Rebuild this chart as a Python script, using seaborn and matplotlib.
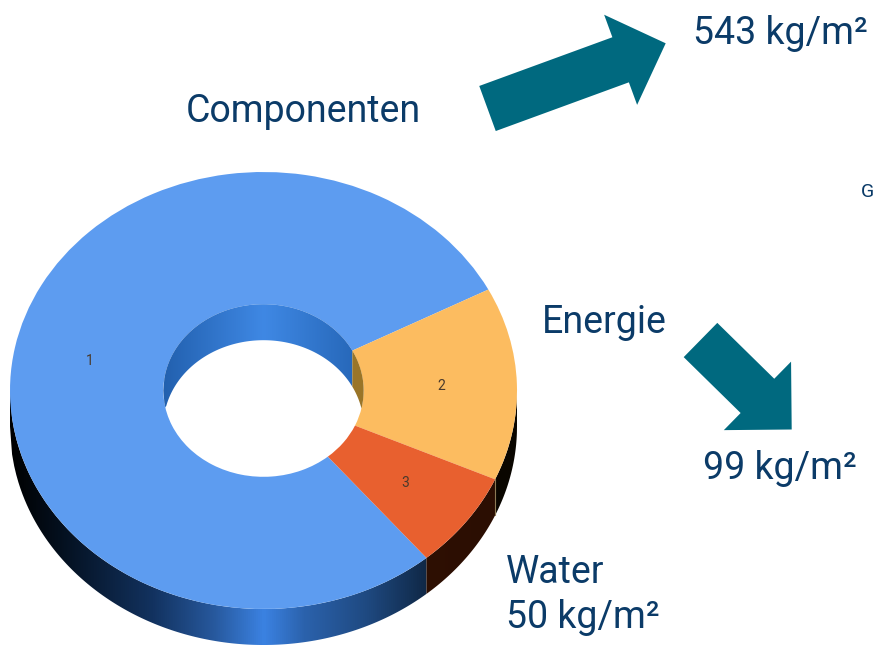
import numpy as np
import matplotlib
matplotlib.use("Agg")
import matplotlib.pyplot as plt
from matplotlib.colors import LinearSegmentedColormap
from matplotlib.patches import FancyArrow, Polygon
import seaborn as sns

# data
slice_labels = ["1", "2", "3"]
slice_values = [543, 99, 50]
slice_colors = ["#5d9cf0", "#fcbc60", "#e8602f"]
annotations = ["Componenten", "543 kg/m²", "Energie", "99 kg/m²", "Water", "50 kg/m²"]

sns.set_theme(style="white")
plt.rcParams["font.family"] = ["Roboto", "DejaVu Sans"]

W, H = 874, 646
CX, CY, RX, RY = 263.5, 390.5, 253.5, 218.5
DEPTH = 36 / RY
HOLE = 0.395
TEXT = "#0b3b68"
TEAL = "#00697f"

fig = plt.figure(figsize=(W / 100, H / 100), dpi=100, facecolor="white")

# disk axes: unit ellipse mapped on the picture
ax = fig.add_axes([0, 0, 1, 1], facecolor="none")
palette = sns.color_palette(slice_colors)
wedges, label_texts = ax.pie(
    slice_values, labels=slice_labels, colors=palette, startangle=-50,
    counterclock=False, radius=1, labeldistance=0.7,
    wedgeprops=dict(width=1 - HOLE, linewidth=0),
    textprops=dict(fontsize=10, color="#4a3a2c"),
)
for t in label_texts:
    t.set_ha("center")
    t.set_va("center")
ax.set_aspect("auto")
xlim = (-CX / RX, (W - CX) / RX)
ylim = (-(H - CY) / RY, CY / RY)
ax.set_xlim(xlim)
ax.set_ylim(ylim)
ax.axis("off")


def gradient(stops, verts, zorder=0.5):
    cmap = LinearSegmentedColormap.from_list("w", stops)
    xs = np.linspace(-1, 1, 512)
    im = ax.imshow(xs[None, :], extent=(-1, 1, -2, 2), cmap=cmap, vmin=-1, vmax=1,
                   aspect="auto", interpolation="bilinear", zorder=zorder)
    im.set_clip_path(Polygon(verts, closed=True, transform=ax.transData))


def outer_wall(a, b):
    x = np.linspace(a, b, 200)
    up = -np.sqrt(np.clip(1 - x ** 2, 0, None))
    return np.r_[np.c_[x, up], np.c_[x[::-1], up[::-1] - DEPTH]]


def inner_wall(a, b):
    x = np.linspace(a, b, 200)
    up = np.sqrt(np.clip(HOLE ** 2 - x ** 2, 0, None))
    low = np.maximum(up - DEPTH, -up)
    return np.r_[np.c_[x, up], np.c_[x[::-1], low[::-1]]]


blue_out = [(0, "#000000"), (0.10, "#04101f"), (0.28, "#12325f"), (0.40, "#27589c"),
            (0.5, "#3b82e2"), (0.58, "#2b62ac"), (0.70, "#1f4a82"), (0.85, "#0c2038"), (1, "#000000")]
brown = [(0, "#401505"), (1, "#2a0e02")]
dark = [(0, "#1a1203"), (1, "#0a0600")]
blue_in = [(0, "#1c5298"), (0.3, "#2260ae"), (0.5, "#3f88e4"), (0.7, "#2464b4"), (1, "#1d5aa6")]
gold = [(0, "#8f6c22"), (1, "#a07a2c")]

# boundaries of the slices, taken from the pie's own wedges
x12 = np.cos(np.deg2rad(wedges[1].theta2))
x23 = np.cos(np.deg2rad(wedges[1].theta1))
x31 = np.cos(np.deg2rad(wedges[2].theta1))

gradient(blue_out, outer_wall(-1, x31))
gradient(brown, outer_wall(x31, x23))
gradient(dark, outer_wall(x23, 1))
ax.plot([x23, x23], [-np.sqrt(1 - x23 ** 2), -np.sqrt(1 - x23 ** 2) - DEPTH],
        color="#8c7a55", lw=0.8, zorder=0.6)
gradient(blue_in, inner_wall(-HOLE, HOLE * x12), zorder=3)
gradient(gold, inner_wall(HOLE * x12, HOLE), zorder=3)
ax.set_xlim(xlim)
ax.set_ylim(ylim)

# overlay in picture coordinates
ov = fig.add_axes([0, 0, 1, 1], facecolor="none")
ov.set_xlim(0, W)
ov.set_ylim(H, 0)
ov.axis("off")

ov.add_patch(FancyArrow(487.5, 108.5, 178.2, -65.2, width=48, head_width=96, head_length=48,
                        length_includes_head=True, color=TEAL, lw=0))
ov.add_patch(FancyArrow(700.5, 340, 91.2, 89.5, width=48, head_width=96, head_length=48,
                        length_includes_head=True, color=TEAL, lw=0))

positions = [(186, 122), (693, 44), (542, 333), (703, 479), (506, 583), (506, 628)]
for s, (x, y) in zip(annotations, positions):
    ov.text(x, y, s, fontsize=27, color=TEXT, ha="left", va="baseline")

# clipped glyph at the right edge of the source slide
ov.text(861, 197, "G", fontsize=14, color=TEXT, ha="left", va="baseline", clip_on=True)

fig.savefig("out.png", dpi=100, facecolor="white")
